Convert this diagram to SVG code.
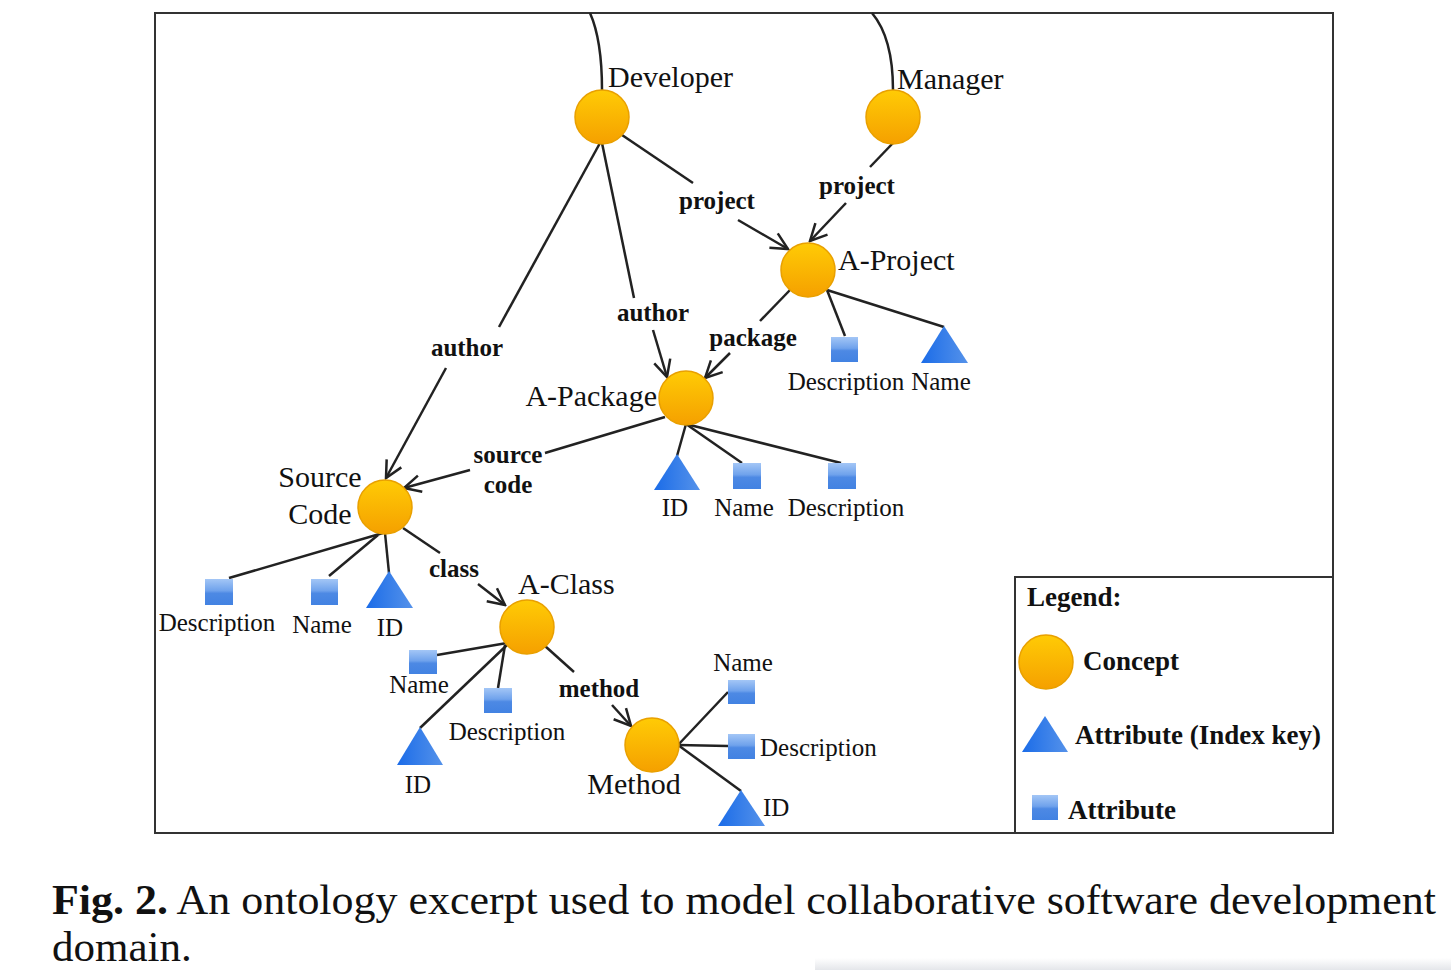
<svg xmlns="http://www.w3.org/2000/svg" width="1451" height="970" viewBox="0 0 1451 970">
<style>
.frame{fill:none;stroke:#333;stroke-width:2}
.e{fill:none;stroke:#222;stroke-width:2.5}
.c{fill:url(#gc);stroke:#E9A000;stroke-width:1.5}
.sq{fill:url(#gs)}
.tri{fill:url(#gt)}
.nl{font-family:"Liberation Serif",serif;font-size:30px;fill:#111}
.el{font-family:"Liberation Serif",serif;font-size:25px;font-weight:bold;fill:#111}
.al{font-family:"Liberation Serif",serif;font-size:25px;fill:#111}
.lg{font-family:"Liberation Serif",serif;font-size:27px;font-weight:bold;fill:#111}
.cap{font-family:"Liberation Serif",serif;font-size:43px;fill:#111}
</style>
<defs>
<linearGradient id="gc" x1="0" y1="0" x2="0" y2="1"><stop offset="0" stop-color="#FFCB05"/><stop offset="1" stop-color="#F5A000"/></linearGradient>
<linearGradient id="gs" x1="0" y1="0" x2="0" y2="1"><stop offset="0" stop-color="#A3C6F6"/><stop offset="0.45" stop-color="#6FA2EC"/><stop offset="0.55" stop-color="#4D89E4"/><stop offset="1" stop-color="#4282E2"/></linearGradient>
<linearGradient id="gt" x1="0" y1="0" x2="1" y2="0"><stop offset="0" stop-color="#1B6CE8"/><stop offset="1" stop-color="#5592EA"/></linearGradient>
<marker id="ar" viewBox="0 0 12 12" refX="11" refY="6" markerWidth="8" markerHeight="8" markerUnits="strokeWidth" orient="auto"><path d="M1,1 L11,6 L1,11" fill="none" stroke="#222" stroke-width="1.5"/></marker>
<linearGradient id="gsh" x1="0" y1="0" x2="0" y2="1"><stop offset="0" stop-color="#fff"/><stop offset="1" stop-color="#e4e6ea"/></linearGradient>
</defs>
<rect width="1451" height="970" fill="#fff"/>
<rect x="815" y="958" width="636" height="12" fill="url(#gsh)"/>
<rect class="frame" x="155" y="13" width="1178" height="820"/>
<rect class="frame" x="1015" y="577" width="318" height="256"/>

<g id="connectors">
<path class="e" d="M590,13 Q602,40 602,90"/>
<path class="e" d="M872,13 Q893,38 893,90"/>
<line class="e" x1="622" y1="135" x2="693" y2="183"/>
<line class="e" x1="738" y1="220" x2="788" y2="249" marker-end="url(#ar)"/>
<line class="e" x1="893" y1="143" x2="870" y2="167"/>
<line class="e" x1="846" y1="203" x2="810" y2="241" marker-end="url(#ar)"/>
<line class="e" x1="602" y1="143" x2="634" y2="298"/>
<line class="e" x1="653" y1="330" x2="667" y2="377" marker-end="url(#ar)"/>
<line class="e" x1="600" y1="143" x2="499" y2="327"/>
<line class="e" x1="446" y1="368" x2="386" y2="478" marker-end="url(#ar)"/>
<line class="e" x1="790" y1="290" x2="760" y2="321"/>
<line class="e" x1="730" y1="353" x2="705" y2="378" marker-end="url(#ar)"/>
<line class="e" x1="665" y1="417" x2="545" y2="453"/>
<line class="e" x1="470" y1="470" x2="404" y2="488" marker-end="url(#ar)"/>
<line class="e" x1="403" y1="528" x2="440" y2="553"/>
<line class="e" x1="478" y1="584" x2="505" y2="605" marker-end="url(#ar)"/>
<line class="e" x1="545" y1="646" x2="574" y2="672"/>
<line class="e" x1="612" y1="705" x2="631" y2="726" marker-end="url(#ar)"/>
<line class="e" x1="827" y1="290" x2="845" y2="336"/>
<line class="e" x1="827" y1="290" x2="944" y2="327"/>
<line class="e" x1="686" y1="424" x2="677" y2="456"/>
<line class="e" x1="686" y1="424" x2="742" y2="463"/>
<line class="e" x1="686" y1="424" x2="841" y2="463"/>
<line class="e" x1="383" y1="533" x2="229" y2="578"/>
<line class="e" x1="378" y1="535" x2="329" y2="576"/>
<line class="e" x1="385" y1="533" x2="389" y2="573"/>
<line class="e" x1="437" y1="655" x2="507" y2="643"/>
<line class="e" x1="498" y1="688" x2="505" y2="645"/>
<line class="e" x1="420" y1="728" x2="507" y2="645"/>
<line class="e" x1="678" y1="745" x2="728" y2="692"/>
<line class="e" x1="678" y1="745" x2="728" y2="746"/>
<line class="e" x1="678" y1="745" x2="741" y2="791"/>
</g>

<g id="edge-labels">
<text class="el" x="717" y="209" text-anchor="middle">project</text>
<text class="el" x="857" y="194" text-anchor="middle">project</text>
<text class="el" x="653" y="321" text-anchor="middle">author</text>
<text class="el" x="467" y="356" text-anchor="middle">author</text>
<text class="el" x="753" y="346" text-anchor="middle">package</text>
<text class="el" x="508" y="463" text-anchor="middle">source</text>
<text class="el" x="508" y="493" text-anchor="middle">code</text>
<text class="el" x="454" y="577" text-anchor="middle">class</text>
<text class="el" x="599" y="697" text-anchor="middle">method</text>
</g>

<g id="developer"><circle class="c" cx="602" cy="117" r="27"/><text class="nl" x="608" y="87">Developer</text></g>
<g id="manager"><circle class="c" cx="893" cy="117" r="27"/><text class="nl" x="897" y="89">Manager</text></g>
<g id="a-project"><circle class="c" cx="808" cy="270" r="27"/><text class="nl" x="838" y="270">A-Project</text></g>
<g id="a-package"><circle class="c" cx="686" cy="398" r="27"/><text class="nl" x="657" y="406" text-anchor="end">A-Package</text></g>
<g id="source-code"><circle class="c" cx="385" cy="507" r="27"/><text class="nl" x="320" y="487" text-anchor="middle">Source</text><text class="nl" x="320" y="524" text-anchor="middle">Code</text></g>
<g id="a-class"><circle class="c" cx="527" cy="627" r="27"/><text class="nl" x="518" y="594">A-Class</text></g>
<g id="method"><circle class="c" cx="652" cy="745" r="27"/><text class="nl" x="634" y="794" text-anchor="middle">Method</text></g>

<g id="a-project-description"><rect class="sq" x="831" y="337" width="27" height="25"/><text class="al" x="846" y="390" text-anchor="middle">Description</text></g>
<g id="a-project-name"><polygon class="tri" points="944,326 921,363 968,363"/><text class="al" x="941" y="390" text-anchor="middle">Name</text></g>

<g id="a-package-id"><polygon class="tri" points="677,454 654,490 700,490"/><text class="al" x="675" y="516" text-anchor="middle">ID</text></g>
<g id="a-package-name"><rect class="sq" x="733" y="463" width="28" height="26"/><text class="al" x="744" y="516" text-anchor="middle">Name</text></g>
<g id="a-package-description"><rect class="sq" x="828" y="463" width="28" height="26"/><text class="al" x="846" y="516" text-anchor="middle">Description</text></g>

<g id="source-description"><rect class="sq" x="205" y="579" width="28" height="26"/><text class="al" x="217" y="631" text-anchor="middle">Description</text></g>
<g id="source-name"><rect class="sq" x="311" y="579" width="27" height="26"/><text class="al" x="322" y="633" text-anchor="middle">Name</text></g>
<g id="source-id"><polygon class="tri" points="389,571 366,608 413,608"/><text class="al" x="390" y="636" text-anchor="middle">ID</text></g>

<g id="class-name"><rect class="sq" x="409" y="650" width="28" height="24"/><text class="al" x="419" y="693" text-anchor="middle">Name</text></g>
<g id="class-description"><rect class="sq" x="484" y="688" width="28" height="25"/><text class="al" x="507" y="740" text-anchor="middle">Description</text></g>
<g id="class-id"><polygon class="tri" points="420,727 397,765 443,765"/><text class="al" x="418" y="793" text-anchor="middle">ID</text></g>

<g id="method-name"><rect class="sq" x="728" y="680" width="27" height="24"/><text class="al" x="743" y="671" text-anchor="middle">Name</text></g>
<g id="method-description"><rect class="sq" x="728" y="734" width="27" height="25"/><text class="al" x="760" y="756">Description</text></g>
<g id="method-id"><polygon class="tri" points="741,790 718,826 765,826"/><text class="al" x="763" y="816">ID</text></g>

<g id="legend">
<text class="lg" x="1027" y="606">Legend:</text>
<circle class="c" cx="1046" cy="662" r="27"/>
<text class="lg" x="1083" y="670">Concept</text>
<polygon class="tri" points="1045,716 1022,752 1068,752"/>
<text class="lg" x="1075" y="744">Attribute (Index key)</text>
<rect class="sq" x="1032" y="795" width="26" height="25"/>
<text class="lg" x="1068" y="819">Attribute</text>
</g>

<g id="caption">
<text class="cap" x="52" y="914" textLength="1384" lengthAdjust="spacingAndGlyphs"><tspan font-weight="bold">Fig. 2.</tspan> An ontology excerpt used to model collaborative software development</text>
<text class="cap" x="52" y="961">domain.</text>
</g>
</svg>
